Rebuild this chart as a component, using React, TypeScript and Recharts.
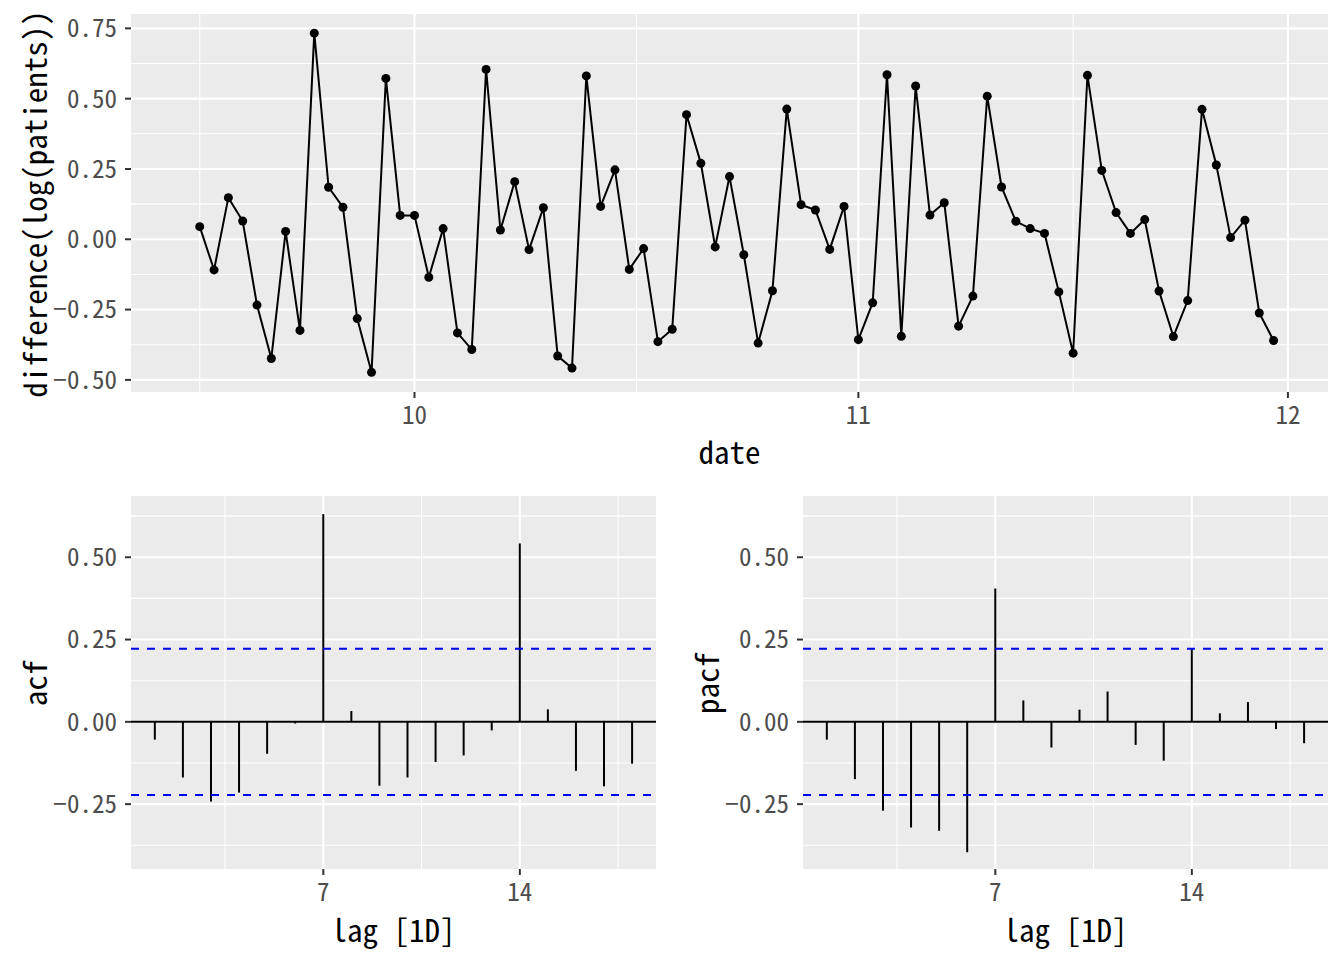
import React from 'react';
import {
  LineChart, Line, ComposedChart, Bar, XAxis, YAxis, CartesianGrid, ReferenceLine,
} from 'recharts';

// ---------- data ----------
const firstDate = '2023-09-16';
const diffValues = [
  0.045, -0.109, 0.148, 0.065, -0.234, -0.424, 0.028, -0.324, 0.733, 0.185,
  0.114, -0.282, -0.473, 0.572, 0.085, 0.085, -0.135, 0.038, -0.333, -0.392,
  0.604, 0.033, 0.205, -0.037, 0.112, -0.415, -0.458, 0.581, 0.117, 0.247,
  -0.107, -0.033, -0.364, -0.320, 0.443, 0.270, -0.027, 0.223, -0.055, -0.369,
  -0.183, 0.463, 0.123, 0.104, -0.036, 0.117, -0.357, -0.226, 0.585, -0.345,
  0.545, 0.086, 0.130, -0.309, -0.202, 0.509, 0.186, 0.064, 0.038, 0.021,
  -0.187, -0.405, 0.583, 0.245, 0.095, 0.021, 0.070, -0.184, -0.346, -0.218,
  0.462, 0.264, 0.006, 0.068, -0.262, -0.360,
];
const monthTickDates = ['2023-10-01', '2023-11-01', '2023-12-01'];
const monthTickLabels = ['10', '11', '12'];
const monthMinorDates = ['2023-09-16', '2023-10-16T12:00:00Z', '2023-11-16'];
const diffYTicks = [-0.5, -0.25, 0, 0.25, 0.5, 0.75];
const diffYMinor = [-0.375, -0.125, 0.125, 0.375, 0.625];

const lags = [1, 2, 3, 4, 5, 6, 7, 8, 9, 10, 11, 12, 13, 14, 15, 16, 17, 18];
const acfValues = [
  -0.054, -0.169, -0.242, -0.215, -0.097, -0.005, 0.631, 0.033, -0.194,
  -0.169, -0.122, -0.102, -0.026, 0.542, 0.038, -0.149, -0.196, -0.127,
];
const pacfValues = [
  -0.054, -0.174, -0.270, -0.321, -0.331, -0.396, 0.405, 0.065, -0.078,
  0.037, 0.092, -0.070, -0.118, 0.221, 0.026, 0.060, -0.022, -0.065,
];
const ciBound = 0.222;
const lagTicks = [7, 14];
const lagMinor = [3.5, 10.5, 17.5];
const cfYTicks = [-0.25, 0, 0.25, 0.5];
const cfYMinor = [-0.375, -0.125, 0.125, 0.375, 0.625];

// ---------- helpers ----------
const DAY = 86400000;
const origin = Date.parse('2023-10-01T00:00:00Z');
const toDay = (s: string) => (Date.parse(s.length === 10 ? s + 'T00:00:00Z' : s) - origin) / DAY;
const startDay = toDay(firstDate);
const diffData = diffValues.map((v, i) => ({ x: startDay + i, y: v }));
const monthTicks = monthTickDates.map(toDay);
const monthMinor = monthMinorDates.map(toDay);
const acfData = lags.map((l, i) => ({ lag: l, acf: acfValues[i] }));
const pacfData = lags.map((l, i) => ({ lag: l, pacf: pacfValues[i] }));

const FONT = "'Noto Sans Mono CJK JP', 'Noto Sans Mono', 'DejaVu Sans Mono', monospace";
const TICK_FS = 25;
const TITLE_FS = 31;
const fmtNum = (v: number) => (v < 0 ? '\u2212' : '') + Math.abs(v).toFixed(2);
const tickStyle = { fill: '#4D4D4D', fontSize: TICK_FS, fontFamily: FONT };
const tickLine = { stroke: '#333333', strokeWidth: 2 };

function CfChart({ data, dataKey, left }: { data: any[]; dataKey: string; left: number }) {
  return (
    <div style={{ position: 'absolute', left, top: 470 }}>
      <ComposedChart width={672} height={490} data={data} margin={{ top: 26, right: 16, bottom: 0, left: 0 }}>
        <CartesianGrid fill="#EBEBEB" stroke="#FFFFFF" strokeWidth={1.1}
          horizontalValues={cfYMinor} verticalValues={lagMinor} />
        <CartesianGrid fill="none" stroke="#FFFFFF" strokeWidth={2.1}
          horizontalValues={cfYTicks} verticalValues={lagTicks} />
        <XAxis type="number" dataKey="lag" domain={[0.15, 18.85]} ticks={lagTicks} allowDataOverflow
          height={91} axisLine={false} stroke="#333333" tickLine={tickLine} tickSize={6} tickMargin={8}
          tick={tickStyle} interval={0} />
        <YAxis type="number" domain={[-0.447, 0.686]} ticks={cfYTicks} allowDataOverflow width={131}
          axisLine={false} stroke="#333333" tickLine={tickLine} tickSize={6} tickMargin={8}
          tick={tickStyle} tickFormatter={fmtNum} interval={0} />
        <Bar dataKey={dataKey} barSize={2} fill="#000000" isAnimationActive={false} />
        <ReferenceLine y={0} stroke="#000000" strokeWidth={2} />
        <ReferenceLine y={ciBound} stroke="#0000FF" strokeWidth={2} strokeDasharray="8 8" />
        <ReferenceLine y={-ciBound} stroke="#0000FF" strokeWidth={2} strokeDasharray="8 8" />
      </ComposedChart>
    </div>
  );
}

export default function App() {
  return (
    <div style={{ position: 'absolute', left: 0, top: 0, width: 1344, height: 960, background: '#FFFFFF' }}>
      <div style={{ position: 'absolute', left: 0, top: 0 }}>
        <LineChart width={1344} height={470} data={diffData} margin={{ top: 14, right: 16, bottom: 0, left: 0 }}>
          <CartesianGrid fill="#EBEBEB" stroke="#FFFFFF" strokeWidth={1.1}
            horizontalValues={diffYMinor} verticalValues={monthMinor} />
          <CartesianGrid fill="none" stroke="#FFFFFF" strokeWidth={2.1}
            horizontalValues={diffYTicks} verticalValues={monthTicks} />
          <XAxis type="number" dataKey="x" domain={[-19.8, 63.8]} ticks={monthTicks} allowDataOverflow
            height={78} axisLine={false} stroke="#333333" tickLine={tickLine} tickSize={6} tickMargin={8}
            tick={tickStyle} interval={0}
            tickFormatter={(v: number) => monthTickLabels[monthTicks.indexOf(v)] ?? ''} />
          <YAxis type="number" domain={[-0.543, 0.801]} ticks={diffYTicks} allowDataOverflow width={131}
            axisLine={false} stroke="#333333" tickLine={tickLine} tickSize={6} tickMargin={8}
            tick={tickStyle} tickFormatter={fmtNum} interval={0} />
          <Line dataKey="y" stroke="#000000" strokeWidth={2} isAnimationActive={false}
            dot={{ r: 4.5, fill: '#000000', stroke: 'none' }} activeDot={false} />
        </LineChart>
      </div>
      <CfChart data={acfData} dataKey="acf" left={0} />
      <CfChart data={pacfData} dataKey="pacf" left={672} />
      <svg width={1344} height={960} style={{ position: 'absolute', left: 0, top: 0, pointerEvents: 'none' }}
        fontFamily={FONT} fontSize={TITLE_FS} fill="#000000">
        <text x={33} y={204} textAnchor="middle" dominantBaseline="central" transform="rotate(-90 33 204)">
          difference(log(patients))
        </text>
        <text x={729.5} y={450} textAnchor="middle" dominantBaseline="central">date</text>
        <text x={33} y={683} textAnchor="middle" dominantBaseline="central" transform="rotate(-90 33 683)">acf</text>
        <text x={705} y={683} textAnchor="middle" dominantBaseline="central" transform="rotate(-90 705 683)">pacf</text>
        <text x={393.5} y={928} textAnchor="middle" dominantBaseline="central">lag [1D]</text>
        <text x={1065.5} y={928} textAnchor="middle" dominantBaseline="central">lag [1D]</text>
      </svg>
    </div>
  );
}
